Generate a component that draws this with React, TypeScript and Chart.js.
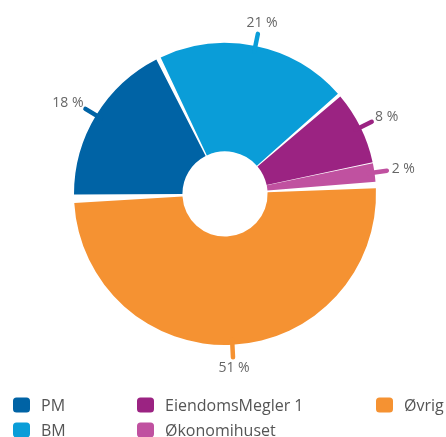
import React, { useEffect, useRef } from "react";
import { Chart, registerables } from "chart.js";

Chart.register(...registerables);

const categories = ["PM", "BM", "EiendomsMegler 1", "Økonomihuset", "Øvrig"];
const shares = [18, 21, 8, 2, 51];
const shareLabels = ["18 %", "21 %", "8 %", "2 %", "51 %"];
const colors = ["#0063a5", "#0a9dd8", "#9b2382", "#c051a0", "#f59232"];
const legendColumns = [[0, 1], [2, 3], [4]];

const FONT = "'Open Sans', sans-serif";

const leaderPlugin = {
  id: "leaders",
  afterDatasetsDraw(chart: any) {
    const ctx = chart.ctx;
    const meta = chart.getDatasetMeta(0);
    ctx.save();
    meta.data.forEach((arc: any, i: number) => {
      const { x, y, startAngle, endAngle, outerRadius } = arc.getProps(
        ["x", "y", "startAngle", "endAngle", "outerRadius"],
        true
      );
      const mid = (startAngle + endAngle) / 2;
      const dx = Math.cos(mid);
      const dy = Math.sin(mid);
      const r0 = outerRadius - 3;
      const r1 = outerRadius + 15;
      ctx.beginPath();
      ctx.strokeStyle = colors[i];
      ctx.lineWidth = 4.5;
      ctx.lineCap = "round";
      ctx.moveTo(x + dx * r0, y + dy * r0);
      ctx.lineTo(x + dx * r1, y + dy * r1);
      ctx.stroke();
      ctx.font = `14px ${FONT}`;
      ctx.fillStyle = "#666666";
      ctx.textAlign = "center";
      ctx.textBaseline = "middle";
      const txt = shareLabels[i];
      const w = ctx.measureText(txt).width;
      const ex = x + dx * r1;
      const ey = y + dy * r1;
      const lx = ex + dx * (w / 2 + 5);
      const ly = ey + dy * (7 + 4);
      ctx.fillText(txt, lx, ly);
    });
    ctx.restore();
  },
  afterDraw(chart: any) {
    const ctx = chart.ctx;
    ctx.save();
    const colX = [13, 137, 376];
    const rowY = [405, 430];
    legendColumns.forEach((col, ci) => {
      col.forEach((idx, ri) => {
        const bx = colX[ci];
        const by = rowY[ri] - 7.5;
        ctx.beginPath();
        ctx.fillStyle = colors[idx];
        (ctx as any).roundRect(bx, by, 17, 15, 3.5);
        ctx.fill();
        ctx.font = `16px ${FONT}`;
        ctx.fillStyle = "#555555";
        ctx.textAlign = "left";
        ctx.textBaseline = "middle";
        ctx.fillText(categories[idx], bx + 28, rowY[ri] + 1);
      });
    });
    ctx.restore();
  },
};

export default function App() {
  const ref = useRef<HTMLCanvasElement | null>(null);
  useEffect(() => {
    if (!ref.current) return;
    const chart = new Chart(ref.current, {
      type: "doughnut",
      data: {
        labels: categories,
        datasets: [
          {
            data: shares,
            backgroundColor: colors,
            borderWidth: 0,
            spacing: 5,
          },
        ],
      },
      options: {
        responsive: false,
        animation: false,
        rotation: -91,
        cutout: "27%",
        layout: { padding: { left: 74, right: 70, top: 43, bottom: 92 } },
        plugins: {
          legend: { display: false },
          tooltip: { enabled: false },
        },
        events: [],
      },
      plugins: [leaderPlugin],
    } as any);
    return () => chart.destroy();
  }, []);
  return (
    <div style={{ position: "fixed", left: 0, top: 0, width: 446, height: 437 }}>
      <canvas ref={ref} width={446} height={437} style={{ width: 446, height: 437 }} />
    </div>
  );
}
